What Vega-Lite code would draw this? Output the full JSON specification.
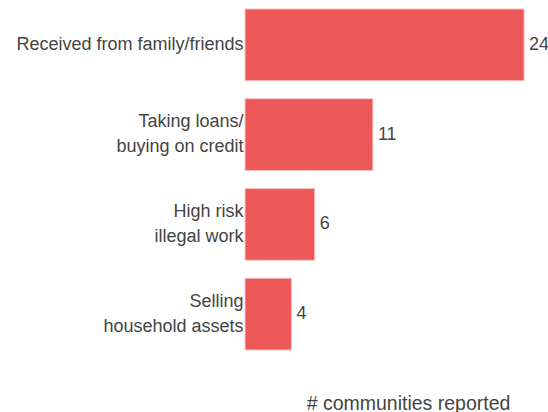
{
  "$schema": "https://vega.github.io/schema/vega-lite/v6.json",
  "autosize": {"type": "none"},
  "padding": {"left": 245, "top": 0, "right": 0, "bottom": 53},
  "width": 303,
  "height": 359,
  "background": "white",
  "data": {"values": [
    {"method": "Received from family/friends", "count": 24},
    {"method": "Taking loans/|buying on credit", "count": 11},
    {"method": "High risk|illegal work", "count": 6},
    {"method": "Selling|household assets", "count": 4}
  ]},
  "encoding": {
    "y": {
      "field": "method", "type": "nominal", "sort": null,
      "scale": {"paddingInner": 0.2, "paddingOuter": 0.1},
      "axis": {
        "title": null, "ticks": false, "domain": false,
        "labelExpr": "split(datum.label, '|')",
        "labelFont": "Liberation Sans", "labelFontSize": 18, "labelColor": "#444444",
        "labelLineHeight": 25, "labelPadding": 2, "labelLimit": 300,
        "labelOffset": {"condition": {"test": "indexof(datum.value, '|') >= 0", "value": -12.5}, "value": 0}
      }
    },
    "x": {
      "field": "count", "type": "quantitative",
      "scale": {"domain": [0, 26.06], "nice": false},
      "axis": {
        "title": "# communities reported", "labels": false, "ticks": false,
        "domain": false, "grid": false,
        "titleFont": "Liberation Sans", "titleFontSize": 19.5, "titleFontWeight": "normal",
        "titleColor": "#444444", "titleX": 163, "titleY": 50,
        "titleBaseline": "alphabetic", "titleAlign": "center"
      }
    }
  },
  "layer": [
    {"mark": {"type": "bar", "color": "#ED5858", "stroke": "#F7C5C5", "strokeWidth": 1}},
    {"mark": {"type": "text", "align": "left", "baseline": "middle", "dx": 5,
              "font": "Liberation Sans", "fontSize": 18, "color": "#444444"},
     "encoding": {"text": {"field": "count", "type": "quantitative"}}}
  ],
  "config": {"view": {"stroke": null}}
}
